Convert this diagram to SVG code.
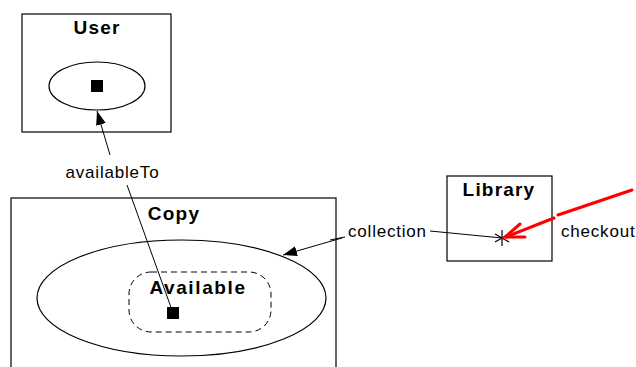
<svg xmlns="http://www.w3.org/2000/svg" width="636" height="367" viewBox="0 0 636 367">
<style>
.box{fill:none;stroke:#000;stroke-width:1.2}
.title{font-family:"Liberation Sans",Arial,sans-serif;font-weight:bold;font-size:19px;letter-spacing:1.2px;text-anchor:middle;fill:#000}
.lbl{font-family:"Liberation Sans",Arial,sans-serif;font-size:17px;letter-spacing:0.8px;fill:#000}
.ln{fill:none;stroke:#000;stroke-width:1}
</style>
<defs>
<marker id="ah" viewBox="0 0 14 10" refX="14" refY="5" markerWidth="14" markerHeight="10" markerUnits="userSpaceOnUse" orient="auto">
<path d="M0,0 L14,5 L0,10 Z" fill="#000"/>
</marker>
</defs>
<rect width="636" height="367" fill="#fff"/>
<g id="user">
<rect class="box" x="22" y="14" width="149" height="118"/>
<text class="title" x="97" y="34">User</text>
<ellipse class="box" cx="97" cy="86" rx="48" ry="24"/>
<rect x="91" y="80" width="12" height="12" fill="#000"/>
</g>
<g id="copy">
<rect class="box" x="11" y="198" width="325" height="180"/>
<text class="title" x="174" y="220">Copy</text>
<ellipse class="box" cx="181.5" cy="298" rx="144.5" ry="58"/>
</g>
<g id="available">
<rect x="129" y="272" width="142" height="60" rx="22" fill="none" stroke="#000" stroke-width="1" stroke-dasharray="6,4"/>
<text class="title" x="198" y="294" style="letter-spacing:1.6px">Available</text>
<rect x="167" y="307" width="12" height="12" fill="#000"/>
</g>
<g id="library">
<rect class="box" x="447" y="176" width="105" height="85"/>
<text class="title" x="499" y="196">Library</text>
<g stroke="#000" stroke-width="1.2">
<line x1="502" y1="230" x2="502" y2="246"/>
<line x1="495" y1="234" x2="509" y2="242"/>
<line x1="495" y1="242" x2="509" y2="234"/>
</g>
</g>
<g id="connectors">
<path class="ln" d="M173,313 L127,185"/>
<path class="ln" d="M110,155 L97,111" marker-end="url(#ah)"/>
<text class="lbl" x="112.5" y="178" text-anchor="middle">availableTo</text>
<path class="ln" d="M330,240 L345,237"/>
<path class="ln" d="M342,238 L283,255" marker-end="url(#ah)"/>
<text class="lbl" x="348" y="237">collection</text>
<path class="ln" d="M430,231 L502,238"/>
<g stroke="#f00" stroke-width="3" fill="none" stroke-linecap="round">
<path d="M632,190 L558,215"/>
<path d="M554,218 L506,237"/>
<path d="M520,224 L505,237 L525,237"/>
</g>
<text class="lbl" x="561" y="237">checkout</text>
</g>
</svg>
